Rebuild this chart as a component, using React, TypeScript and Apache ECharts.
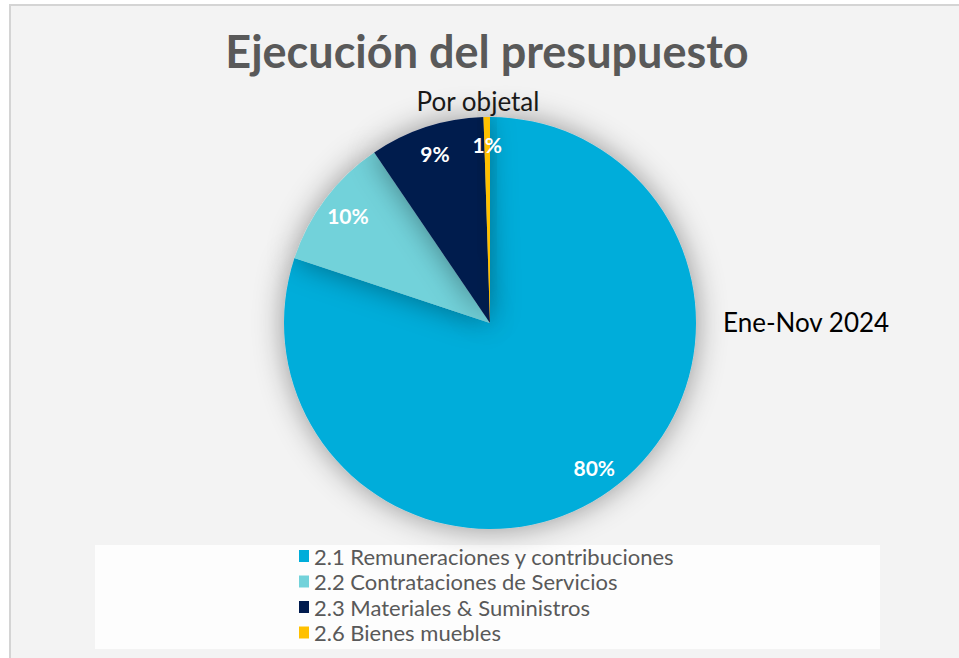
import React, { useEffect, useRef } from "react";
import * as echarts from "echarts";

const categories = [
  "2.1 Remuneraciones y contribuciones",
  "2.2 Contrataciones de Servicios",
  "2.3 Materiales & Suministros",
  "2.6 Bienes muebles",
];
const values = [80.1, 10.4, 9.0, 0.5];
const colors = ["#00ADDA", "#72D2DA", "#001B4E", "#FFC000"];
const titleText = "Ejecución del presupuesto";
const subtitleText = "Por objetal";
const seriesName = "Ene-Nov 2024";

const FONT = "Lato";
const R = 206;
const CX = 490;
const CY = 323;

export default function App() {
  const ref = useRef<HTMLDivElement>(null);
  useEffect(() => {
    if (!ref.current) return;
    const chart = echarts.init(ref.current, undefined, { renderer: "svg" });
    const data = categories.map((name, i) => ({
      name,
      value: values[i],
      itemStyle: { color: colors[i] },
    }));
    chart.setOption({
      animation: false,
      backgroundColor: "#ffffff",
      graphic: [
        {
          type: "rect",
          z: -10,
          shape: { x: 10, y: 5, width: 970, height: 680 },
          style: { fill: "#f3f3f3", stroke: "#d4d4d4", lineWidth: 2 },
          silent: true,
        },
        {
          type: "rect",
          z: -9,
          shape: { x: 95, y: 545, width: 785, height: 104 },
          style: { fill: "#fdfdfd" },
          silent: true,
        },
        {
          type: "text",
          x: 487,
          y: 51,
          style: {
            text: titleText,
            fill: "#595959",
            font: `bold 45px ${FONT}`,
            textAlign: "center",
            textVerticalAlign: "middle",
          },
        },
        {
          type: "text",
          x: 478,
          y: 101,
          style: {
            text: subtitleText,
            fill: "#1a1a1a",
            font: `26px ${FONT}`,
            textAlign: "center",
            textVerticalAlign: "middle",
          },
        },
        {
          type: "text",
          x: 723,
          y: 322,
          style: {
            text: seriesName,
            fill: "#000000",
            font: `26px ${FONT}`,
            textAlign: "left",
            textVerticalAlign: "middle",
          },
        },
      ],
      legend: {
        orient: "vertical",
        left: 294,
        top: 540,
        itemWidth: 10,
        itemHeight: 12,
        itemGap: 3.5,
        icon: "rect",
        data: categories,
        textStyle: { fontSize: 22, color: "#595959", fontFamily: FONT },
      },
      series: [
        {
          type: "pie",
          name: seriesName,
          center: [CX, CY],
          radius: [0, R],
          startAngle: 90,
          clockwise: true,
          label: { show: false },
          labelLine: { show: false },
          emphasis: { disabled: true },
          itemStyle: {
            borderWidth: 0,
            shadowBlur: 30,
            shadowColor: "rgba(0,0,0,0.4)",
          },
          data,
        },
        {
          type: "pie",
          name: seriesName + " labels",
          center: [CX, CY],
          radius: [R * 0.7, R],
          startAngle: 90,
          clockwise: true,
          silent: true,
          emphasis: { disabled: true },
          itemStyle: { color: "rgba(0,0,0,0)", borderWidth: 0 },
          labelLine: { show: false },
          label: {
            show: true,
            position: "inside",
            color: "#ffffff",
            fontWeight: "bold",
            fontSize: 21,
            fontFamily: FONT,
            formatter: (p: any) => `${Math.round(p.percent)}%`,
          },
          data: categories.map((name, i) => ({ name, value: values[i] })),
        },
      ],
    });
    return () => chart.dispose();
  }, []);
  return (
    <div
      ref={ref}
      style={{ position: "absolute", left: 0, top: 0, width: 959, height: 658 }}
    />
  );
}
